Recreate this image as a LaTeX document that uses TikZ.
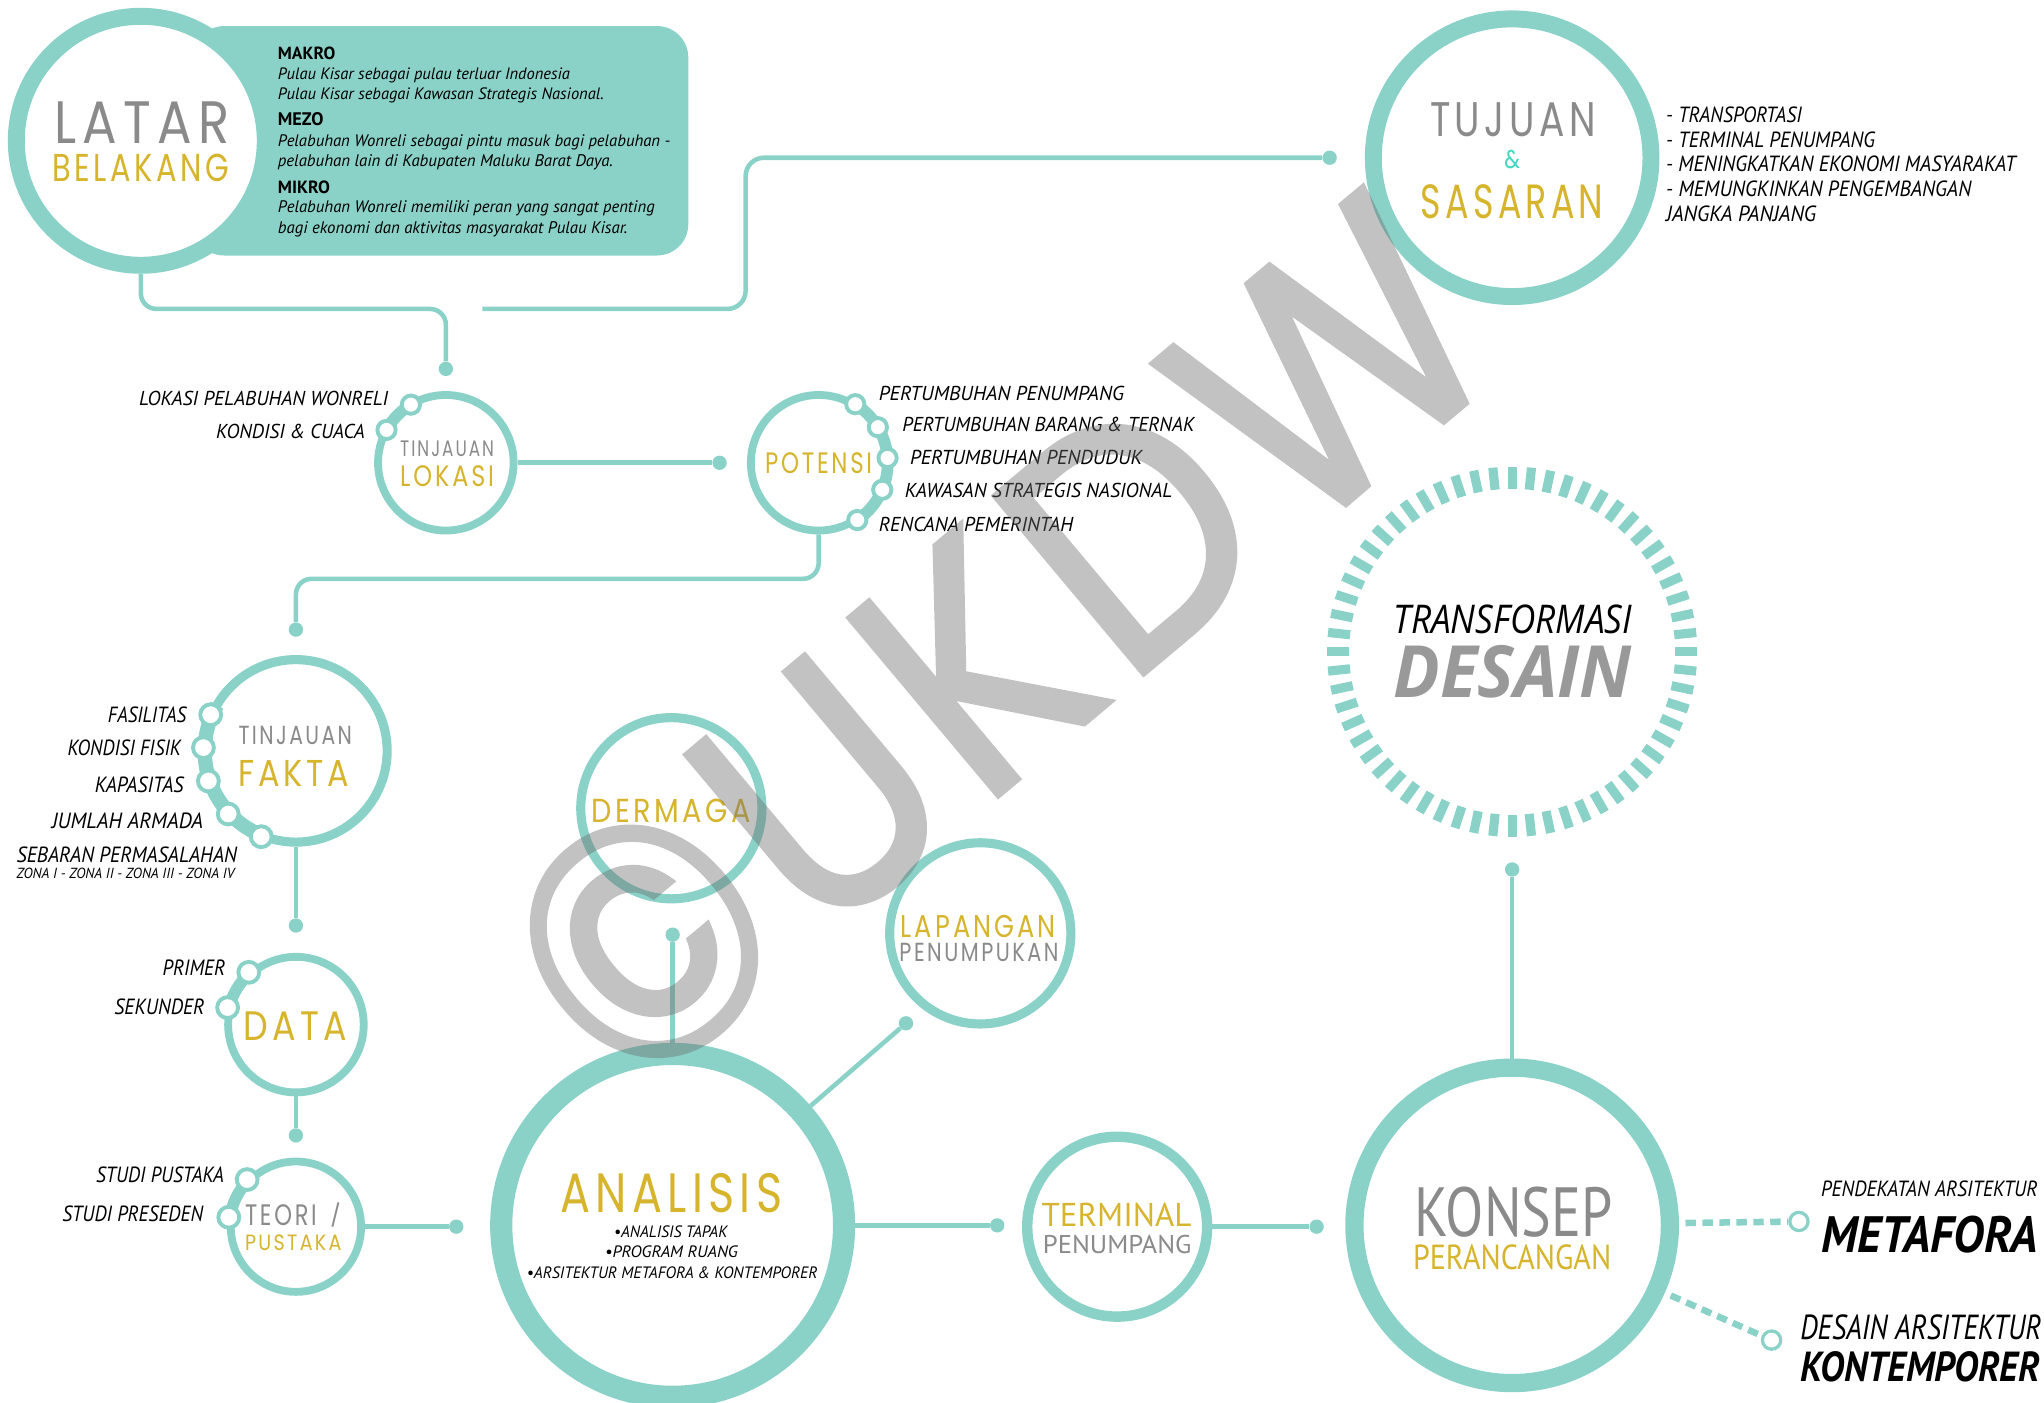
\documentclass[tikz,border=0pt]{standalone}
\usepackage{fontspec}
\usepackage{graphicx}
\setmainfont{PT Sans}
\newfontfamily\tf[LetterSpace=12]{Poppins}
\newfontfamily\wf{Poppins}
\newfontfamily\wmf[FakeBold=1.5,LetterSpace=4]{Poppins}
\newfontfamily\lf{PT Sans}
\newfontfamily\of{Open Sans}
\newcommand\li{\lf\itshape}
\newcommand\fit[3]{\resizebox{#1pt}{#2pt}{#3}}
\newcommand\fitw[2]{\resizebox{#1pt}{!}{#2}}
\usetikzlibrary{calc}
\definecolor{tl}{HTML}{8AD2C8}
\definecolor{gd}{HTML}{D6B42C}
\definecolor{gy}{HTML}{8A8A8A}
\definecolor{am}{HTML}{3FD8BF}
\definecolor{dg}{HTML}{999999}
\begin{document}
\begin{tikzpicture}[x=1pt,y=-1pt,
  cring/.style={circle, draw=tl, fill=white, inner sep=0pt},
  cknob/.style={circle, draw=tl, fill=white, line width=3pt, minimum size=14pt, inner sep=0pt},
  cdot/.style={circle, fill=tl, minimum size=11pt, inner sep=0pt},
  cmark/.style={circle, draw=tl, fill=white, line width=2.5pt, minimum size=14pt, inner sep=0pt},
  clink/.style={draw=tl, line width=3.5pt},
  cdash/.style={draw=tl, line width=5pt, dash pattern=on 8pt off 5pt},
  ctext/.style={inner sep=0pt}]
\useasboundingbox (0,0) rectangle (1568,1076);

% ---------- background box ----------
\node[fill=tl, rounded corners=24pt, minimum width=380pt, minimum height=176pt, inner sep=0pt] (box) at (338,108) {};

% ---------- dots and free ends ----------
\node[cdot] (d1) at (342,283) {};
\node[cdot] (d2) at (1020,121) {};
\node[cdot] (d3) at (552,355) {};
\node[cdot] (d4) at (227,483) {};
\node[cdot] (d5) at (227,710) {};
\node[cdot] (d6) at (227,871) {};
\node[cdot] (d7) at (350,941) {};
\node[cdot] (d8) at (516,717) {};
\node[cdot] (d9) at (695,785) {};
\node[cdot] (d10) at (765,940) {};
\node[cdot] (d11) at (1010,941) {};
\node[cdot] (d12) at (1160,667) {};
\coordinate (k1) at (342,237);
\coordinate (s2) at (370,237);
\coordinate (k2) at (572,121);
\coordinate (k4) at (227,444);

% ---------- circles ----------
\node[cring, line width=13pt, minimum size=191pt] (latar) at (108,108) {};
\node[cring, line width=13pt, minimum size=213pt] (tujuan) at (1160,121) {};
\node[cring, line width=6pt, minimum size=104pt] (lokasi) at (342,355) {};
\node[cring, line width=6pt, minimum size=104pt] (potensi) at (628,355) {};
\node[cring, line width=7pt, minimum size=140pt] (fakta) at (227,576) {};
\node[cring, line width=6pt, minimum size=104pt] (data) at (227,786) {};
\node[cring, line width=6pt, minimum size=100pt] (teori) at (227,941) {};
\node[cring, line width=7pt, minimum size=139pt] (dermaga) at (515,620) {};
\node[cring, line width=7pt, minimum size=139pt] (lapangan) at (752,716) {};
\node[cring, line width=17pt, minimum size=263pt] (analisis) at (516,940) {};
\node[cring, line width=8pt, minimum size=138pt] (terminal) at (857,941) {};
\node[cring, line width=14pt, minimum size=242pt] (konsep) at (1160,940) {};
\node[circle, minimum size=284pt, inner sep=0pt] (ring) at (1160,500) {};
\node[cmark] (m1) at (1380,937) {};
\node[cmark] (m2) at (1359,1028) {};

% ---------- connectors ----------
\draw[clink, rounded corners=12pt] (latar.south) |- (k1) -- (d1);
\draw[clink, rounded corners=14pt] (s2) -| (k2) -- (d2);
\draw[clink] (lokasi.east) -- (d3);
\draw[clink, rounded corners=12pt] (potensi.south) |- (k4) -- (d4);
\draw[clink] (fakta.south) -- (d5);
\draw[clink] (data.south) -- (d6);
\draw[clink] (teori.east) -- (d7);
\draw[clink] (d8) -- (analisis);
\draw[clink] (d9) -- (analisis);
\draw[clink] (analisis) -- (d10);
\draw[clink] (terminal) -- (d11);
\draw[clink] (konsep) -- (d12);
\draw[cdash, shorten <=5pt] (konsep) -- (m1);
\draw[cdash, shorten <=5pt] (konsep) -- (m2);

% ---------- dashed ring ----------
\foreach \a in {0,6,...,354}
  \draw[tl, line width=7pt] ([shift={(\a:125pt)}]ring.center) -- ([shift={(\a:142pt)}]ring.center);

% ---------- thick arcs and knobs ----------
\draw[tl, line width=9pt] ([shift={(113:52pt)}]lokasi.center) arc[start angle=113, end angle=159, radius=52pt];
\node[cknob] (lk1) at ([shift={(121:52pt)}]lokasi.center) {};
\node[cknob] (lk2) at ([shift={(151:52pt)}]lokasi.center) {};

\draw[tl, line width=9pt] ([shift={(64:53pt)}]potensi.center) arc[start angle=64, end angle=-62, radius=53pt];
\node[cknob] (pk1) at ([shift={(58:53pt)}]potensi.center) {};
\node[cknob] (pk2) at ([shift={(31:53pt)}]potensi.center) {};
\node[cknob] (pk3) at ([shift={(4:53pt)}]potensi.center) {};
\node[cknob] (pk4) at ([shift={(-23:53pt)}]potensi.center) {};
\node[cknob] (pk5) at ([shift={(-56:53pt)}]potensi.center) {};

\draw[tl, line width=11pt] ([shift={(150:70pt)}]fakta.center) arc[start angle=150, end angle=254, radius=70pt];
\node[cknob, minimum size=16pt] (fk1) at ([shift={(157:71pt)}]fakta.center) {};
\node[cknob, minimum size=16pt] (fk2) at ([shift={(178:71pt)}]fakta.center) {};
\node[cknob, minimum size=16pt] (fk3) at ([shift={(199:71pt)}]fakta.center) {};
\node[cknob, minimum size=16pt] (fk4) at ([shift={(223:71pt)}]fakta.center) {};
\node[cknob, minimum size=16pt] (fk5) at ([shift={(248:71pt)}]fakta.center) {};

\draw[tl, line width=9pt] ([shift={(126:53pt)}]data.center) arc[start angle=126, end angle=172, radius=53pt];
\node[cknob, minimum size=16pt] (dk1) at ([shift={(132:54pt)}]data.center) {};
\node[cknob, minimum size=16pt] (dk2) at ([shift={(166:54pt)}]data.center) {};

\draw[tl, line width=9pt] ([shift={(130:51pt)}]teori.center) arc[start angle=130, end angle=178, radius=51pt];
\node[cknob, minimum size=16pt] (tk1) at ([shift={(136:52pt)}]teori.center) {};
\node[cknob, minimum size=16pt] (tk2) at ([shift={(172:52pt)}]teori.center) {};

% ---------- box text ----------
\node[ctext, anchor=base west] (bx1) at (213,45.5) {\fitw{44}{\lf\bfseries MAKRO}};
\node[ctext, anchor=base west] (bx2) at (213,61) {\fitw{224}{\li Pulau Kisar sebagai pulau terluar Indonesia}};
\node[ctext, anchor=base west] (bx3) at (213,76) {\fitw{250}{\li Pulau Kisar sebagai Kawasan Strategis Nasional.}};
\node[ctext, anchor=base west] (bx4) at (213,96.5) {\fitw{35}{\lf\bfseries MEZO}};
\node[ctext, anchor=base west] (bx5) at (213,112) {\fitw{301}{\li Pelabuhan Wonreli sebagai pintu masuk bagi pelabuhan -}};
\node[ctext, anchor=base west] (bx6) at (213,128) {\fitw{257}{\li pelabuhan lain di Kabupaten Maluku Barat Daya.}};
\node[ctext, anchor=base west] (bx7) at (213,148.5) {\fitw{40}{\lf\bfseries MIKRO}};
\node[ctext, anchor=base west] (bx8) at (213,163) {\fitw{289}{\li Pelabuhan Wonreli memiliki peran yang sangat penting}};
\node[ctext, anchor=base west] (bx9) at (213,179) {\fitw{268}{\li bagi ekonomi dan aktivitas masyarakat Pulau Kisar.}};

% ---------- titles ----------
\node[ctext, text=gy] (tLat) at (109,94) {\fit{134}{32}{\tf LATAR}};
\node[ctext, text=gd] (tBel) at (108,128.5) {\fit{136}{21}{\tf BELAKANG}};
\node[ctext, text=gy] (tTuj) at (1160.5,92) {\fit{127}{26}{\tf TUJUAN}};
\node[ctext, text=am] (tAmp) at (1160,122) {\fit{12}{14}{\wf\&}};
\node[ctext, text=gd] (tSas) at (1160,155) {\fit{140}{26}{\tf SASARAN}};
\node[ctext, text=gy] (tTin1) at (343,344) {\fit{72}{12}{\tf TINJAUAN}};
\node[ctext, text=gd] (tLok) at (343,365) {\fit{72}{16}{\tf LOKASI}};
\node[ctext, text=gd] (tPot) at (628,355) {\fit{82}{16}{\tf POTENSI}};
\node[ctext, text=gy] (tTin2) at (226.5,564) {\fit{87}{14}{\tf TINJAUAN}};
\node[ctext, text=gd] (tFak) at (225.5,593) {\fit{85}{20}{\tf FAKTA}};
\node[ctext, text=gd] (tDat) at (226.5,787) {\fit{79}{22}{\tf DATA}};
\node[ctext, text=gy] (tTeo) at (215.5,932) {\fit{55}{16}{\tf TEORI}};
\node[ctext, text=gy] (tSl) at (257.5,932) {\fitw{8}{\wf /}};
\node[ctext, text=gd] (tPus) at (225,953) {\fit{74}{12}{\tf PUSTAKA}};
\node[ctext, text=gd] (tDer) at (515,622) {\fit{122}{18}{\tf DERMAGA}};
\node[ctext, text=gd] (tLap) at (750.5,710.5) {\fit{119}{17}{\tf LAPANGAN}};
\node[ctext, text=gy] (tPen1) at (751,731) {\fit{122}{14}{\tf PENUMPUKAN}};
\node[ctext, text=gd] (tAna) at (515,915) {\fit{170}{30}{\tf ANALISIS}};
\node[ctext] (ab1) at (514.5,945) {\fit{87}{9}{\li •ANALISIS TAPAK}};
\node[ctext] (ab2) at (515,960) {\fit{102}{9}{\li •PROGRAM RUANG}};
\node[ctext] (ab3) at (515.5,976) {\fit{223}{9}{\li •ARSITEKTUR METAFORA \& KONTEMPORER}};
\node[ctext, text=gd] (tTer) at (856.5,932) {\fit{115}{18}{\lf TERMINAL}};
\node[ctext, text=gy] (tPen2) at (857,955) {\fit{114}{14}{\lf PENUMPANG}};
\node[ctext, text=gy] (tKon) at (1161,930) {\fit{152}{38}{\lf KONSEP}};
\node[ctext, text=gd] (tPer) at (1160,964.5) {\fit{152}{19}{\lf PERANCANGAN}};
\node[ctext] (tTra) at (1160.5,475) {\fit{183}{22}{\of\itshape TRANSFORMASI}};
\node[ctext, text=dg] (tDes) at (1160.5,515) {\fit{183}{40}{\of\bfseries\itshape DESAIN}};
\node[ctext] (tPend) at (1480,912) {\fit{166}{12}{\li PENDEKATAN ARSITEKTUR}};
\node[ctext] (tMet) at (1480,947) {\fit{166}{28}{\lf\bfseries\itshape METAFORA}};
\node[ctext] (tDsn) at (1473.5,1018.5) {\fit{185}{19}{\li DESAIN ARSITEKTUR}};
\node[ctext] (tKnt) at (1473,1048.5) {\fit{184}{23}{\lf\bfseries\itshape KONTEMPORER}};

% ---------- labels ----------
\node[ctext, anchor=east] (l1) at (298,306) {\fit{191}{11}{\li LOKASI PELABUHAN WONRELI}};
\node[ctext, anchor=east] (l2) at (280,331) {\fit{114}{11}{\li KONDISI \& CUACA}};
\node[ctext, anchor=west] (p1) at (674,302) {\fit{188}{11}{\li PERTUMBUHAN PENUMPANG}};
\node[ctext, anchor=west] (p2) at (692,326) {\fit{224}{11}{\li PERTUMBUHAN BARANG \& TERNAK}};
\node[ctext, anchor=west] (p3) at (698,351) {\fit{178}{11}{\li PERTUMBUHAN PENDUDUK}};
\node[ctext, anchor=west] (p4) at (694,376) {\fit{205}{11}{\li KAWASAN STRATEGIS NASIONAL}};
\node[ctext, anchor=west] (p5) at (674,402) {\fit{149}{11}{\li RENCANA PEMERINTAH}};
\node[ctext, anchor=east] (f1) at (143,548) {\fit{60}{12}{\li FASILITAS}};
\node[ctext, anchor=east] (f2) at (139,574) {\fit{87}{12}{\li KONDISI FISIK}};
\node[ctext, anchor=east] (f3) at (141,602) {\fit{68}{12}{\li KAPASITAS}};
\node[ctext, anchor=east] (f4) at (156,630) {\fit{116}{12}{\li JUMLAH ARMADA}};
\node[ctext, anchor=east] (f5) at (182,656) {\fit{169}{12}{\li SEBARAN PERMASALAHAN}};
\node[ctext, anchor=east] (f6) at (180,670) {\fit{167}{8}{\li ZONA I - ZONA II - ZONA III - ZONA IV}};
\node[ctext, anchor=east] (dl1) at (173,742) {\fit{48}{12}{\li PRIMER}};
\node[ctext, anchor=east] (dl2) at (157,772) {\fit{69}{12}{\li SEKUNDER}};
\node[ctext, anchor=east] (tl1) at (172,901) {\fit{98}{12}{\li STUDI PUSTAKA}};
\node[ctext, anchor=east] (tl2) at (156,931) {\fit{108}{12}{\li STUDI PRESEDEN}};
\node[ctext, anchor=west] (j1) at (1278,88) {\fit{104}{12}{\li - TRANSPORTASI}};
\node[ctext, anchor=west] (j2) at (1278,107) {\fit{160}{12}{\li - TERMINAL PENUMPANG}};
\node[ctext, anchor=west] (j3) at (1278,126) {\fit{268}{12}{\li - MENINGKATKAN EKONOMI MASYARAKAT}};
\node[ctext, anchor=west] (j4) at (1278,145) {\fit{234}{12}{\li - MEMUNGKINKAN PENGEMBANGAN}};
\node[ctext, anchor=west] (j5) at (1278,164) {\fit{115}{12}{\li JANGKA PANJANG}};

% ---------- watermark ----------
\begin{scope}[transparency group, opacity=0.41]
\node[ctext, rotate=40, text=black!58] (wm) at (766,494) {\fit{890}{180}{\wmf ©UKDW}};
\end{scope}
\end{tikzpicture}
\end{document}
